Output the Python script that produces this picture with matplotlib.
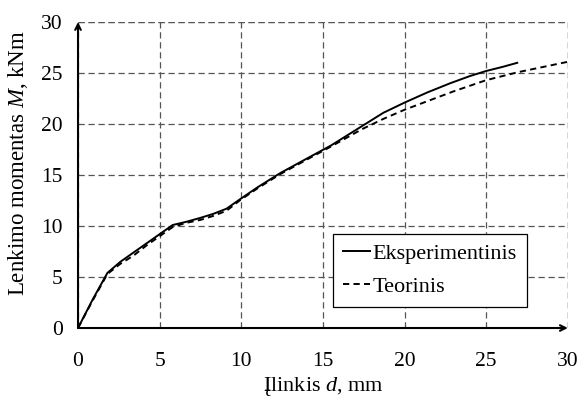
import matplotlib
matplotlib.use("Agg")
import matplotlib.pyplot as plt

plt.rcParams['font.family'] = ['Liberation Serif', 'DejaVu Serif']
plt.rcParams['mathtext.fontset'] = 'custom'
plt.rcParams['mathtext.rm'] = 'Liberation Serif'
plt.rcParams['mathtext.it'] = 'Liberation Serif:italic'

# deflection d [mm] and bending moment M [kNm]
d_exp = [0, 0.9, 1.8, 2.6, 3.4, 4.2, 5.0, 5.8, 6.6, 7.5, 8.3, 9.1, 9.9, 11.0, 12.4,
         14.0, 15.5, 17.4, 18.7, 20.0, 21.4, 22.8, 24.0, 25.0, 26.0, 26.9]
M_exp = [0, 2.8, 5.4, 6.5, 7.4, 8.3, 9.2, 10.1, 10.4, 10.8, 11.2, 11.7, 12.6, 13.8, 15.2,
         16.6, 17.9, 19.8, 21.1, 22.1, 23.1, 24.0, 24.7, 25.2, 25.6, 26.0]

d_teo = [0, 0.9, 1.8, 2.6, 3.4, 4.2, 5.0, 5.8, 6.6, 7.5, 8.3, 9.1, 9.9, 11.0, 12.4,
         14.0, 15.5, 17.4, 18.7, 20.0, 21.5, 23.0, 25.0, 27.0, 28.5, 30.0]
M_teo = [0, 2.7, 5.3, 6.3, 7.1, 8.1, 9.0, 9.9, 10.3, 10.6, 11.0, 11.5, 12.5, 13.7, 15.1,
         16.5, 17.8, 19.5, 20.5, 21.4, 22.3, 23.2, 24.3, 25.1, 25.6, 26.1]

xticks = [0, 5, 10, 15, 20, 25, 30]
yticks = [0, 5, 10, 15, 20, 25, 30]

fig = plt.figure(figsize=(5.83, 3.96), dpi=100)
ax = fig.add_axes([0.1338, 0.1717, 0.8402, 0.7727])

ax.plot(d_exp, M_exp, color='black', lw=1.4, label='Eksperimentinis', zorder=3)
ax.plot(d_teo, M_teo, color='black', lw=1.4, ls=(0, (3.2, 2.2)), label='Teorinis', zorder=3)

ax.set_xlim(0, 30)
ax.set_ylim(0, 30)
ax.set_xticks(xticks)
ax.set_yticks(yticks)
ax.tick_params(axis='both', length=0, labelsize=15.5)
ax.tick_params(axis='x', pad=17)
ax.tick_params(axis='y', pad=11)

gridkw = dict(color='#555555', lw=0.9, ls=(0, (5, 3)))
ax.grid(True, **gridkw)
ax.set_axisbelow(True)
for s in ax.spines.values():
    s.set_visible(False)
# closing grid lines at the far edges
ax.axvline(30, zorder=1, **gridkw)
ax.axhline(30, zorder=1, **gridkw)

# axes with arrow heads
arrowkw = dict(arrowstyle='->', color='black', lw=1.5, shrinkA=0, shrinkB=0)
ax.annotate('', xy=(30, 0), xytext=(0, 0), arrowprops=arrowkw,
            annotation_clip=False, zorder=4)
ax.annotate('', xy=(0, 30), xytext=(0, 0), arrowprops=arrowkw,
            annotation_clip=False, zorder=4)

ax.set_xlabel(r'Įlinkis $\it{d}$, mm', fontsize=16)
ax.set_ylabel(r'Lenkimo momentas $\it{M}$, kNm', fontsize=16.5)
ax.xaxis.set_label_coords(0.502, -0.152)
ax.yaxis.set_label_coords(-0.099, 0.54)

leg = ax.legend(loc='lower left', bbox_to_anchor=(0.52, 0.0686), borderaxespad=0,
                fontsize=16, handlelength=1.25, handletextpad=0.08, borderpad=0.45,
                labelspacing=0.55, fancybox=False, framealpha=1, edgecolor='black')
leg.get_frame().set_linewidth(0.9)

fig.savefig('out.png', dpi=100)
